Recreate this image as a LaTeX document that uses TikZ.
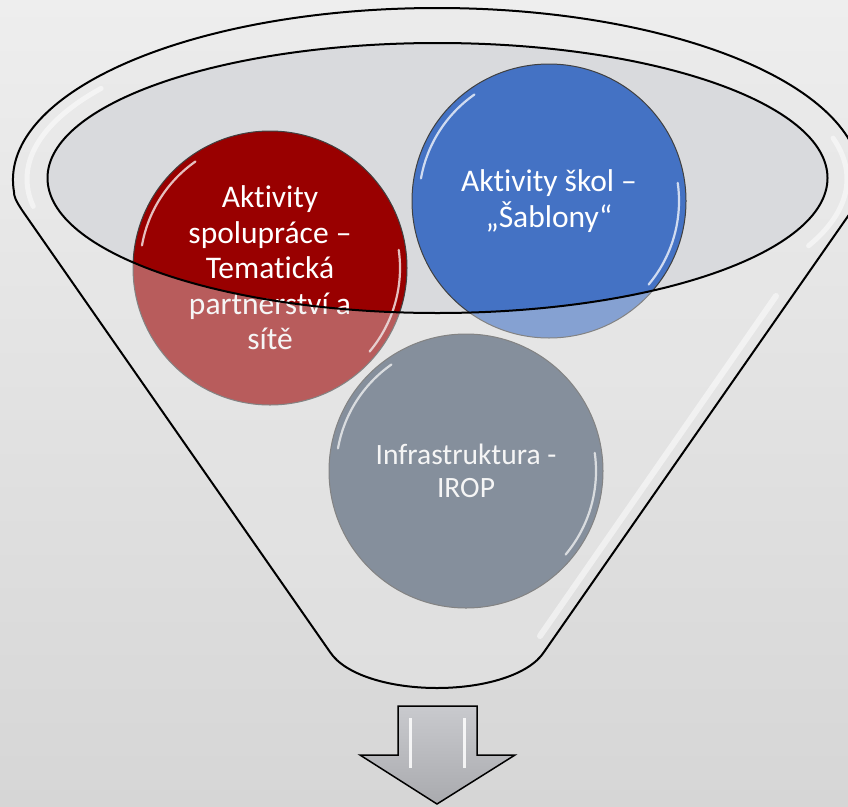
\documentclass[tikz,border=0pt]{standalone}
\usepackage{fontspec}
\setmainfont{Carlito}[Ligatures={NoCommon}]
\definecolor{bgtop}{HTML}{EEEEEE}
\definecolor{bgbot}{HTML}{D6D6D6}
\definecolor{backgray}{HTML}{D9DADD}
\definecolor{veil}{HTML}{E8E8E8}
\definecolor{redc}{HTML}{990000}
\definecolor{bluec}{HTML}{4472C4}
\definecolor{grayc}{HTML}{44546A}
\definecolor{arrowtop}{HTML}{C9CACE}
\definecolor{arrowbot}{HTML}{A9AAAE}
\begin{document}
\begin{tikzpicture}[x=1pt,y=-1pt,
  ball/.style={circle, draw=black!75, line width=1pt, minimum size=274pt, inner sep=0pt,
    text=white, align=center, font=\fontsize{31.5}{35.5}\selectfont},
  funnelline/.style={draw=black, line width=2pt, line join=round},
  gloss/.style={white, line width=2.2pt, opacity=0.75, line cap=round},
  sheen/.style={white, opacity=0.5, line cap=round},
]
\useasboundingbox (0,0) rectangle (848,806);
\shade[top color=bgtop, bottom color=bgbot] (0,0) rectangle (848,806);
% back of the funnel mouth
\fill[backgray] (437.5,178) ellipse [x radius=390, y radius=135];
% circles
\node[ball, fill=redc] (red) at (270,268) {Aktivity\\spolupráce –\\Tematická\\partnerství a\\sítě};
\node[ball, fill=bluec] (blue) at (549,201) {Aktivity škol –\\„Šablony“};
\node[ball, fill=grayc, font=\fontsize{29.5}{33}\selectfont] (gray) at (466,471) {Infrastruktura -\\IROP};
\foreach \n in {red,blue,gray}{
  \draw[gloss] (\n.center) ++(-125:130) arc[start angle=-125, end angle=-170, radius=130];
  \draw[gloss] (\n.center) ++(40:130) arc[start angle=40, end angle=-8, radius=130];
}
% front veil of the funnel
\fill[veil, opacity=0.4, even odd rule]
  (24,213) .. controls (15,200) and (14,196) .. (14,192)
  arc[start angle=-184, end angle=7.7, x radius=424, y radius=172]
  -- (544,652) .. controls (529,675) and (484,688) .. (437,688)
  .. controls (390,688) and (345,675) .. (330,652) -- cycle
  (437.5,178) ellipse [x radius=390, y radius=135];
% sheen on rim and cone
\draw[sheen, line width=5pt] (437,179) ++(-145:410 and 158) arc[start angle=-145, end angle=-190, x radius=410, y radius=158];
\draw[sheen, line width=5pt] (437,179) ++(-15:410 and 158) arc[start angle=-15, end angle=25, x radius=410, y radius=158];
\draw[sheen, line width=6pt] (776,296) -- (540,636);
% outlines
\draw[funnelline]
  (24,213) .. controls (15,200) and (14,196) .. (14,192)
  arc[start angle=-184, end angle=7.7, x radius=424, y radius=172]
  -- (544,652) .. controls (529,675) and (484,688) .. (437,688)
  .. controls (390,688) and (345,675) .. (330,652) -- cycle;
\draw[funnelline] (437.5,178) ellipse [x radius=390, y radius=135];
% down arrow
\draw[line width=1.5pt, line join=miter, top color=arrowtop, bottom color=arrowbot]
  (398,706) -- (477,706) -- (477,755) -- (515,755) -- (437,804) -- (360,755) -- (398,755) -- cycle;
\draw[white, line width=3pt, opacity=0.85] (410,718) -- (410,768);
\draw[white, line width=3pt, opacity=0.85] (464,718) -- (464,768);
\end{tikzpicture}
\end{document}
